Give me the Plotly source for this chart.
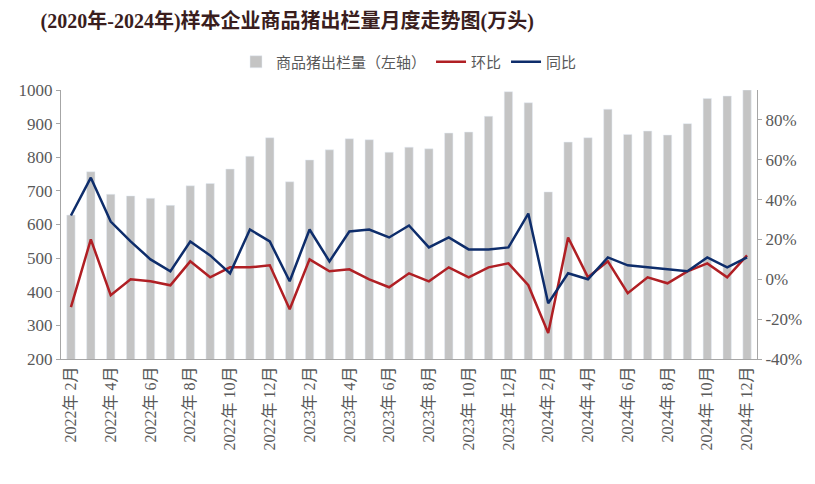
import plotly.graph_objects as go

months = []
for y in (2022, 2023, 2024):
    for m in range(1, 13):
        if (y, m) >= (2022, 2):
            months.append(f"{y}年{m}月")

volume = [628, 757, 690, 685, 678, 657, 715, 722, 765, 803, 858, 727, 792, 822, 855, 852,
          815, 830, 825, 872, 875, 922, 995, 962, 697, 845, 858, 943, 868, 878, 866, 900,
          975, 982, 1000]
mom = [-14, 20, -8, 0, -1, -3, 9, 1, 6, 6, 7, -15, 10, 4, 5, 0, -4, 3, -1, 6, 1, 6, 8, -3,
       -27, 21, 1, 9, -7, 1, -2, 4, 8, 1, 12]
yoy = [32, 51, 29, 19, 10, 4, 19, 12, 3, 25, 19, -1, 25, 9, 24, 25, 21, 27, 16, 21, 15, 15,
       16, 33, -12, 3, 0, 11, 7, 6, 5, 4, 11, 6, 11]

tickvals = months[::2]
ticktext = [m.replace("年", "年 ") for m in tickvals]
y2vals = [-40, -20, 0, 20, 40, 60, 80]
y2text = [f"{v}%" for v in y2vals]
font = "Liberation Serif, Noto Sans CJK SC"

fig = go.Figure()
fig.add_bar(x=months, y=volume, name="商品猪出栏量（左轴）", marker_color="#C4C4C4", width=0.42)
fig.add_scatter(x=months, y=mom, name="环比", yaxis="y2", mode="lines",
                line=dict(color="#B01F24", width=2.5))
fig.add_scatter(x=months, y=yoy, name="同比", yaxis="y2", mode="lines",
                line=dict(color="#0E2D6B", width=2.5))

fig.update_layout(
    width=815, height=484, plot_bgcolor="white", paper_bgcolor="white",
    margin=dict(l=53, r=66, t=82, b=133, autoexpand=False),
    font=dict(family=font, color="#595959", size=17),
    title=dict(text="<b>(2020年-2024年)样本企业商品猪出栏量月度走势图(万头)</b>",
               x=0.04, yref="container", y=1 - 13 / 484, xanchor="left", yanchor="middle",
               font=dict(size=20, color="#3A1E1E", family=font)),
    legend=dict(orientation="h", x=0.5, xanchor="center", yref="container",
                y=1 - 54 / 484, yanchor="middle", font=dict(size=15, color="#595959")),
    xaxis=dict(tickmode="array", tickvals=tickvals, ticktext=ticktext, tickangle=-90,
               showline=True, linecolor="#A6A6A6", ticks="", showgrid=False,
               tickfont=dict(size=16), automargin=False),
    yaxis=dict(range=[200, 1000], dtick=100, showline=True, linecolor="#A6A6A6",
               ticks="outside", ticklen=4, tickcolor="#A6A6A6", showgrid=False,
               automargin=False),
    yaxis2=dict(range=[-40, 95], tickvals=y2vals, ticktext=y2text,
                overlaying="y", side="right", showline=True, linecolor="#A6A6A6",
                ticks="outside", ticklen=4, tickcolor="#A6A6A6", showgrid=False,
                zeroline=False, automargin=False),
)
fig.write_html("out.html")
